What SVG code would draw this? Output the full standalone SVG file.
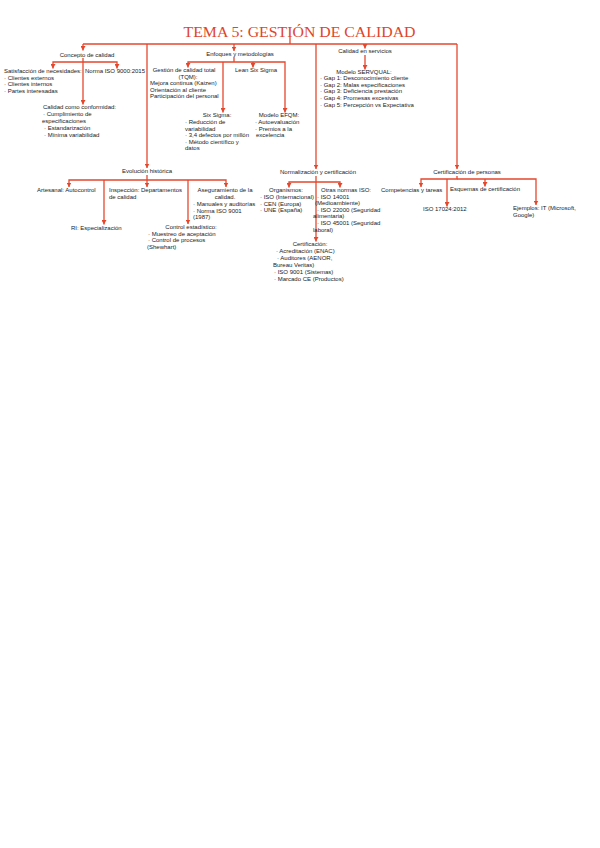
<svg xmlns="http://www.w3.org/2000/svg" width="600" height="848" viewBox="0 0 600 848">
<defs>
<marker id="ah" markerUnits="userSpaceOnUse" markerWidth="5" markerHeight="5" refX="4.5" refY="2.5" orient="auto">
<path d="M0,0 L4.5,2.5 L0,5 Z" fill="#e5472d"/>
</marker>
<style>
.t{font-family:"Liberation Sans",Arial,sans-serif;font-size:6px;fill:#222}
.m{text-anchor:middle}
.c path{fill:none;stroke:#e5472d;stroke-width:1.3}
.a{marker-end:url(#ah)}
</style>
</defs>
<rect width="600" height="848" fill="#fff"/>
<g id="title"><text x="299.5" y="36.5" font-family="Liberation Serif,serif" font-size="15" fill="#e0452c" text-anchor="middle" textLength="232" lengthAdjust="spacingAndGlyphs">TEMA 5: GESTIÓN DE CALIDAD</text></g>
<g class="c" id="connectors">
<path d="M290,37 V44"/>
<path d="M83,44 H457"/>
<path class="a" d="M83,44 V50.5"/>
<path class="a" d="M83,58 V104.5"/>
<path class="a" d="M83,62 H53 V68.5"/>
<path class="a" d="M83,62 H117 V68.5"/>
<path class="a" d="M147,44 V168"/>
<path class="a" d="M147,175 V187"/>
<path class="a" d="M147,180 H69 V187"/>
<path class="a" d="M147,180 H226 V187"/>
<path class="a" d="M104,180 V224.5"/>
<path class="a" d="M188,180 V224"/>
<path class="a" d="M234,44 V51"/>
<path d="M234,57 V62"/>
<path class="a" d="M234,62 H188 V67.5"/>
<path class="a" d="M234,62 H285 V112.5"/>
<path class="a" d="M223,62 V112.5"/>
<path class="a" d="M253,62 V67.5"/>
<path class="a" d="M316,44 V169"/>
<path class="a" d="M316,176 V241.5"/>
<path class="a" d="M316,182 H289 V187.5"/>
<path class="a" d="M316,182 H340 V187.5"/>
<path class="a" d="M365,44 V48.5"/>
<path class="a" d="M365,55 V69.5"/>
<path class="a" d="M457,44 V169"/>
<path class="a" d="M457,176 V179 H421 V187"/>
<path class="a" d="M457,179 H536 V205"/>
<path class="a" d="M485,179 V186.5"/>
<path class="a" d="M447,179 V206.5"/>
</g>
<g id="concepto"><text class="t m" x="87" y="57">Concepto de calidad</text></g>
<g id="satisfaccion">
<text class="t" x="4" y="73">Satisfacción de necesidades:</text>
<text class="t" x="4" y="79.5">· Clientes externos</text>
<text class="t" x="4" y="86">· Clientes internos</text>
<text class="t" x="4" y="92.5">· Partes interesadas</text>
</g>
<g id="norma9000"><text class="t" x="85" y="73">Norma ISO 9000:2015</text></g>
<g id="conformidad">
<text class="t" x="43" y="109">Calidad como conformidad:</text>
<text class="t" x="43" y="116">· Cumplimiento de</text>
<text class="t" x="42" y="123">especificaciones</text>
<text class="t" x="44" y="130">· Estandarización</text>
<text class="t" x="44" y="137">· Mínima variabilidad</text>
</g>
<g id="enfoques"><text class="t m" x="240" y="56">Enfoques y metodologías</text></g>
<g id="tqm">
<text class="t m" x="184" y="72">Gestión de calidad total</text>
<text class="t m" x="188" y="78.5">(TQM):</text>
<text class="t" x="150" y="85">Mejora continua (Kaizen)</text>
<text class="t" x="150" y="91.5">Orientación al cliente</text>
<text class="t" x="150" y="98">Participación del personal</text>
</g>
<g id="lean"><text class="t" x="235" y="72">Lean Six Sigma</text></g>
<g id="sixsigma">
<text class="t m" x="217" y="117">Six Sigma:</text>
<text class="t" x="185" y="124">· Reducción de</text>
<text class="t" x="185" y="130.5">variabilidad</text>
<text class="t" x="185" y="137">· 3,4 defectos por millón</text>
<text class="t" x="185" y="143.5">· Método científico y</text>
<text class="t" x="185" y="150">datos</text>
</g>
<g id="efqm">
<text class="t m" x="279" y="117">Modelo EFQM:</text>
<text class="t" x="255" y="124">· Autoevaluación</text>
<text class="t" x="255" y="130.5">· Premios a la</text>
<text class="t" x="256" y="137">excelencia</text>
</g>
<g id="servicios"><text class="t m" x="365" y="53">Calidad en servicios</text></g>
<g id="servqual">
<text class="t m" x="364" y="74">Modelo SERVQUAL:</text>
<text class="t" x="320" y="80">· Gap 1: Desconocimiento cliente</text>
<text class="t" x="320" y="86.7">· Gap 2: Malas especificaciones</text>
<text class="t" x="320" y="93.4">· Gap 3: Deficiencia prestación</text>
<text class="t" x="320" y="100.1">· Gap 4: Promesas excesivas</text>
<text class="t" x="320" y="106.8">· Gap 5: Percepción vs Expectativa</text>
</g>
<g id="evolucion"><text class="t m" x="147" y="173">Evolución histórica</text></g>
<g id="artesanal"><text class="t" x="37" y="192">Artesanal: Autocontrol</text></g>
<g id="inspeccion">
<text class="t" x="109" y="192">Inspección: Departamentos</text>
<text class="t" x="109" y="199">de calidad</text>
</g>
<g id="ri"><text class="t" x="71" y="230">RI: Especialización</text></g>
<g id="aseguramiento">
<text class="t m" x="225" y="192">Aseguramiento de la</text>
<text class="t m" x="225" y="199">calidad.</text>
<text class="t" x="193" y="206">· Manuales y auditorías</text>
<text class="t" x="193" y="212.5">· Norma ISO 9001</text>
<text class="t" x="193" y="219">(1987)</text>
</g>
<g id="control">
<text class="t m" x="191" y="229">Control estadístico:</text>
<text class="t" x="148" y="235.5">· Muestreo de aceptación</text>
<text class="t" x="148" y="242">· Control de procesos</text>
<text class="t" x="147" y="248.5">(Shewhart)</text>
</g>
<g id="normalizacion"><text class="t m" x="318" y="174">Normalización y certificación</text></g>
<g id="organismos">
<text class="t m" x="286" y="192">Organismos:</text>
<text class="t" x="260" y="199">· ISO (Internacional)</text>
<text class="t" x="260" y="205.5">· CEN (Europa)</text>
<text class="t" x="260" y="212">· UNE (España)</text>
</g>
<g id="otras">
<text class="t m" x="346" y="192">Otras normas ISO:</text>
<text class="t" x="317" y="198.5">· ISO 14001</text>
<text class="t" x="315" y="205">(Medioambiente)</text>
<text class="t" x="317" y="211.5">· ISO 22000 (Seguridad</text>
<text class="t" x="313" y="218">alimentaria)</text>
<text class="t" x="317" y="225">· ISO 45001 (Seguridad</text>
<text class="t" x="313" y="231.5">laboral)</text>
</g>
<g id="certificacion">
<text class="t m" x="310" y="246">Certificación:</text>
<text class="t" x="276" y="253">· Acreditación (ENAC)</text>
<text class="t" x="277" y="260">· Auditores (AENOR,</text>
<text class="t" x="273" y="266.5">Bureau Veritas)</text>
<text class="t" x="274" y="273.5">· ISO 9001 (Sistemas)</text>
<text class="t" x="274" y="280.5">· Marcado CE (Productos)</text>
</g>
<g id="personas"><text class="t m" x="467" y="174">Certificación de personas</text></g>
<g id="competencias"><text class="t" x="381" y="192">Competencias y tareas</text></g>
<g id="esquemas"><text class="t" x="450" y="191">Esquemas de certificación</text></g>
<g id="iso17024"><text class="t" x="423" y="211">ISO 17024:2012</text></g>
<g id="ejemplos">
<text class="t" x="513" y="210">Ejemplos: IT (Microsoft,</text>
<text class="t" x="513" y="217">Google)</text>
</g>
</svg>
